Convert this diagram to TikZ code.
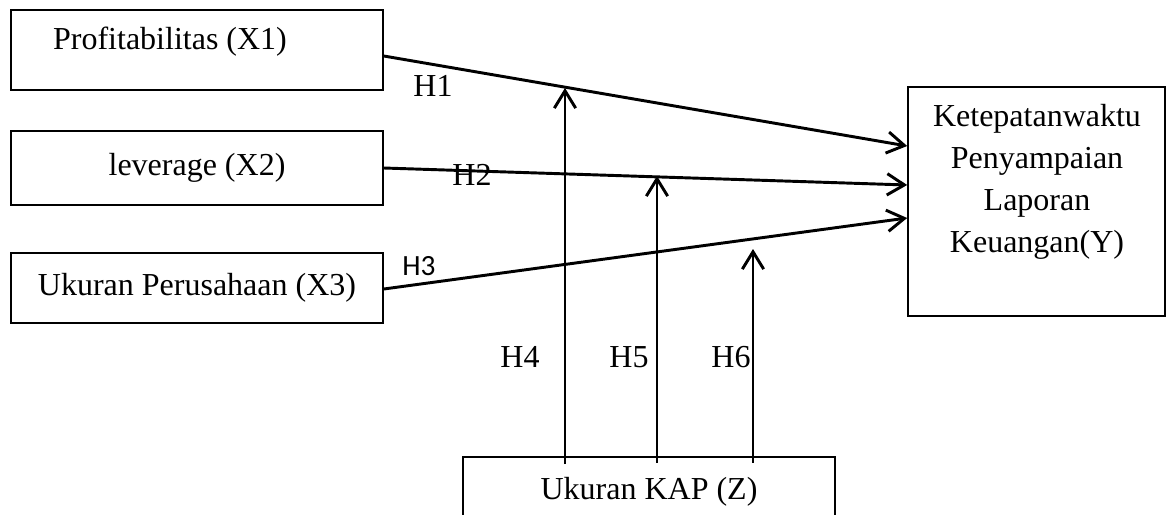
\documentclass[tikz,border=0pt]{standalone}
\usepackage{fontspec}
\setmainfont{Liberation Serif}
\newfontfamily\calibrifont{Carlito}
\usepackage{tikz}
\usetikzlibrary{arrows.meta,positioning,calc}

\begin{document}
\begin{tikzpicture}[
  x=0.375pt,y=-0.375pt,
  every node/.style={font=\fontsize{12}{15}\selectfont,align=center},
  varbox/.style={draw=black,line width=0.6pt,minimum width=139.5pt,minimum height=30pt,inner sep=0pt},
  ybox/.style={draw=black,line width=0.6pt,minimum width=96.4pt,minimum height=85.9pt,inner sep=0pt},
  hlabel/.style={inner sep=0pt},
  arrow/.style={-{Straight Barb[length=6.5pt,width=8pt]},line width=1.1pt}
]
\clip (0,0) rectangle (1173,514);
\node[varbox] (x1) at (197,50) {};
\node[hlabel] (x1txt) at (170,42) {Profitabilitas (X1)};
\node[varbox,minimum height=27.75pt] (x2) at (197,168) {leverage (X2)};
\node[varbox,minimum height=26.25pt] (x3) at (197,288) {Ukuran Perusahaan (X3)};
\node[ybox] (y) at (1036.5,201.5) {};
\node[hlabel,font=\fontsize{12}{15.75}\selectfont] (ytxt) at (1037,182) {Ketepatanwaktu\\Penyampaian\\Laporan\\Keuangan(Y)};
\node[varbox,minimum height=26.25pt] (z) at (649,492) {Ukuran KAP (Z)};
\coordinate (h4e) at (565,88);
\coordinate (h5e) at (657,176);
\coordinate (h6e) at (753,249);
\draw[arrow] (x1.east |- 0,56) -- (y.west |- 0,146);
\draw[arrow] (x2.east |- 0,168) -- (y.west |- 0,185);
\draw[arrow] (x3.east |- 0,289) -- (y.west |- 0,218);
\draw[arrow] ([yshift=-3pt]z.north -| h4e) -- (h4e);
\draw[arrow] ([yshift=-2.5pt]z.north -| h5e) -- (h5e);
\draw[arrow] ([yshift=-2.5pt]z.north -| h6e) -- (h6e);
\node[hlabel] (h1) at (433,86) {H1};
\node[hlabel] (h2) at (472,175) {H2};
\node[hlabel,font=\calibrifont\fontsize{11}{13}\selectfont] (h3) at (419,266) {H3};
\node[hlabel] (h4) at (520,357) {H4};
\node[hlabel] (h5) at (629,357) {H5};
\node[hlabel] (h6) at (731,357) {H6};
\end{tikzpicture}
\end{document}
